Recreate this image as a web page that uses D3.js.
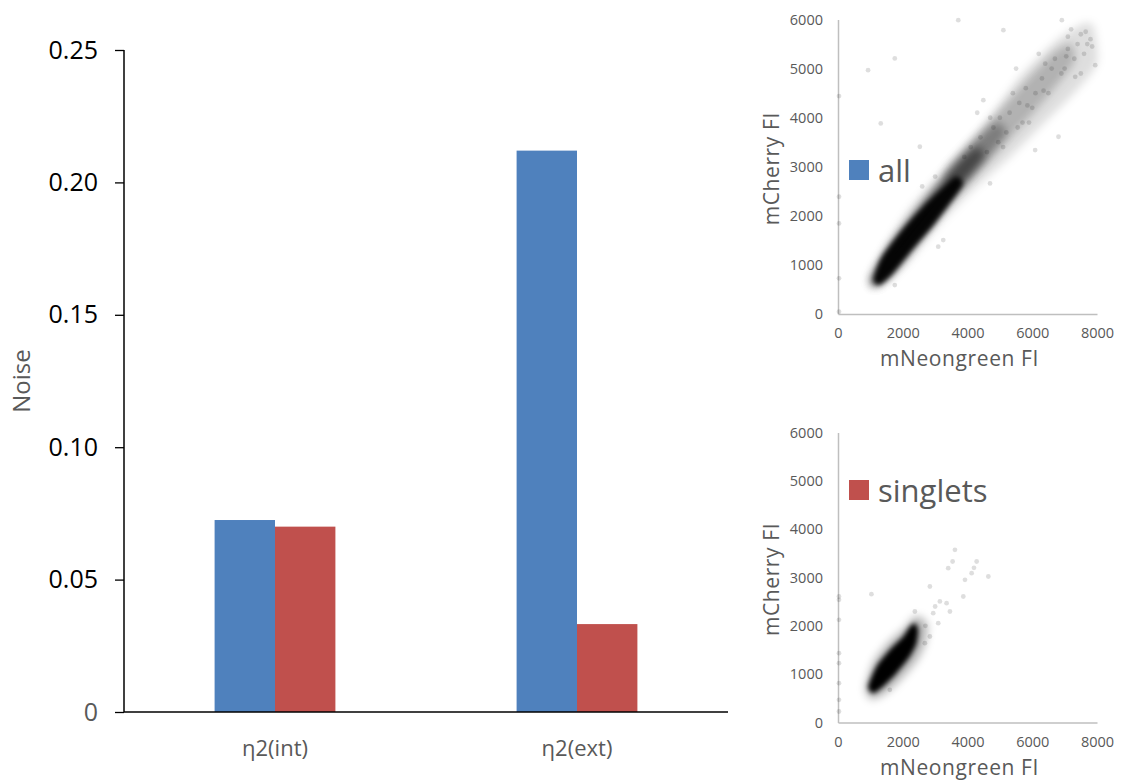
<!DOCTYPE html>
<html>
<head>
<meta charset="utf-8">
<script src="https://cdn.jsdelivr.net/npm/d3@7"></script>
<style>
  body { margin: 0; background: #fff; }
  svg { display: block; font-family: "Open Sans", sans-serif; }
</style>
</head>
<body>
<div id="chart"></div>
<script>
// bar chart data
const categories = ["η2(int)", "η2(ext)"];
const seriesNames = ["all", "singlets"];
const allValues = [0.0725, 0.2120];
const singletValues = [0.0700, 0.0332];
const noiseTicks = [0, 0.05, 0.10, 0.15, 0.20, 0.25];

// scatter axes ticks
const fiXTicks = [0, 2000, 4000, 6000, 8000];
const fiYTicks = [0, 1000, 2000, 3000, 4000, 5000, 6000];

// "all" cloud as [mNeongreen, mCherry] outlines
const allOuter = [[980, 828], [2116, 2050], [3354, 3000], [4489, 3814], [5624, 4832], [6760, 5579],
  [7585, 5918], [7895, 5850], [7998, 5104], [7276, 4493], [6347, 3882], [5315, 3203],
  [4283, 2593], [3251, 1914], [2219, 1100], [1600, 692], [1084, 543]];
const allMid = [[3300, 2900], [4000, 3450], [4700, 3950], [5400, 4450], [6100, 4950], [6700, 5350],
  [7200, 5500], [7300, 5150], [6800, 4700], [6100, 4150], [5400, 3650], [4700, 3150],
  [4000, 2700], [3500, 2450]];
const allInner = [[1000, 700], [1800, 1500], [2700, 2300], [3500, 2950], [4300, 3550], [4900, 3900],
  [5200, 3700], [4700, 3250], [4000, 2700], [3300, 2150], [2500, 1500], [1700, 850], [1150, 560]];
const allDense = [[1050, 700], [1500, 1300], [2300, 2000], [3100, 2650], [3800, 3150], [4300, 3400],
  [4500, 3200], [3900, 2700], [3200, 2150], [2500, 1550], [1800, 950], [1200, 580]];
const allCore = [[1100, 700], [1350, 1150], [2000, 1720], [2650, 2200], [3250, 2580], [3650, 2800],
  [3850, 2650], [3450, 2250], [2900, 1770], [2250, 1280], [1650, 800], [1280, 600]];
const allStray = [[3715, 5986], [929, 4968], [1754, 5206], [31, 4439], [1321, 3882], [31, 2389],
  [31, 1846], [31, 726], [31, 48], [1754, 590], [2528, 3407], [5108, 5782], [6914, 5986],
  [7946, 5070], [6811, 3611], [6089, 3339], [3251, 1507], [3096, 1371], [4489, 4357],
  [4696, 2660], [7327, 4832], [5500, 5000], [6200, 5300], [7100, 5650], [7700, 5500],
  [4300, 4100], [5900, 3900], [3000, 2800], [2600, 2600], [4950, 3500], [7500, 4900],
  [5000, 4000], [5200, 3700], [5600, 4300], [5800, 4600], [6000, 4200], [6300, 4800],
  [6500, 4500], [6700, 5200], [6900, 4900], [7100, 5400], [7300, 5200], [7500, 5700],
  [7600, 5300], [7800, 5600], [7200, 5800], [6600, 5000], [5400, 4500], [4800, 3800],
  [4600, 3300], [5100, 3400], [4400, 3600], [4100, 3400], [3900, 3200], [5700, 3900],
  [6100, 4500], [7000, 5000], [7400, 5500], [6400, 5100], [5300, 4100], [4700, 4000],
  [7650, 5750], [7850, 5450], [7050, 5250], [6350, 4550], [5850, 4250], [5550, 3800]];

// "singlets" cloud
const singMid = [[850, 700], [1100, 1250], [1550, 1650], [2050, 1950], [2400, 2200], [2750, 2050],
  [2700, 1650], [2450, 1300], [1950, 900], [1500, 620], [1050, 480]];
const singCore = [[929, 745], [1187, 1159], [1600, 1504], [2012, 1779], [2219, 1986], [2374, 2055],
  [2477, 1917], [2425, 1641], [2219, 1366], [1806, 1021], [1393, 745], [1084, 607]];
const singStray = [[3612, 3573], [3540, 3331], [4283, 3331], [4128, 3090], [4644, 3021], [3922, 2952],
  [3405, 3193], [2838, 2814], [3147, 2504], [3354, 2469], [3870, 2607], [3457, 2297],
  [2374, 2297], [1032, 2655], [30, 2538], [30, 2607], [30, 2124], [30, 1435], [30, 1228],
  [30, 814], [30, 469], [30, 228], [2838, 1779], [2683, 1641], [3096, 2055], [2941, 2262],
  [1600, 676], [4200, 3200], [3000, 2400], [2700, 2000]];

const W = 1123, H = 780;
const blue = "#4F81BD", red = "#C0504D", grey = "#595959";

const svg = d3.select("#chart").append("svg")
  .attr("width", W)
  .attr("height", H);

const defs = svg.append("defs");
[["soft", 2.5], ["haze", 4.5]].forEach(([id, s]) => {
  defs.append("filter").attr("id", id)
    .attr("x", "-20%").attr("y", "-20%").attr("width", "140%").attr("height", "140%")
    .append("feGaussianBlur").attr("stdDeviation", s);
});

// ---- bar chart ----
const x0 = d3.scaleBand().domain(categories).range([124, 728]);
const x1 = d3.scaleBand().domain(seriesNames).range([0, x0.bandwidth()]).paddingOuter(1.5);
const y = d3.scaleLinear().domain([0, 0.25]).range([712, 50]);

const rows = categories.map((c, i) => ({ cat: c, vals: [allValues[i], singletValues[i]] }));

svg.append("g")
  .selectAll("g")
  .data(rows)
  .join("g")
  .attr("transform", d => `translate(${x0(d.cat)},0)`)
  .selectAll("rect")
  .data(d => d.vals.map((v, j) => ({ s: seriesNames[j], v })))
  .join("rect")
  .attr("x", d => x1(d.s))
  .attr("width", x1.bandwidth())
  .attr("y", d => y(d.v))
  .attr("height", d => y(0) - y(d.v))
  .attr("fill", (d, j) => j == 0 ? blue : red);

const yAxis = svg.append("g")
  .attr("transform", "translate(124,0)")
  .call(d3.axisLeft(y).tickValues(noiseTicks).tickSize(9).tickPadding(17)
    .tickFormat(d => d == 0 ? "0" : d3.format(".2f")(d)));
yAxis.select(".domain").attr("stroke", "#000").attr("stroke-width", 1.5).attr("d", "M0,50V712");
yAxis.selectAll(".tick line").attr("stroke", "#000").attr("stroke-width", 1.3);
yAxis.selectAll(".tick text").attr("font-size", 25).attr("fill", d => d == 0 ? grey : "#000")
  .attr("font-family", "Open Sans");

svg.append("line")
  .attr("x1", 124).attr("x2", 728).attr("y1", y(0)).attr("y2", y(0))
  .attr("stroke", "#000").attr("stroke-width", 1.5);

svg.append("g")
  .selectAll("text")
  .data(categories)
  .join("text")
  .attr("x", d => x0(d) + x0.bandwidth() / 2)
  .attr("y", 756)
  .attr("text-anchor", "middle")
  .attr("font-size", 22)
  .attr("fill", grey)
  .text(d => d);

svg.append("text")
  .attr("transform", "translate(30,381) rotate(-90)")
  .attr("text-anchor", "middle")
  .attr("font-size", 24)
  .attr("fill", grey)
  .attr("font-family", "Open Sans")
  .text("Noise");

// ---- scatter panels ----
function scatter(top, bottom, layers, stray, label, color, legendY) {
  const sx = d3.scaleLinear().domain([0, 8000]).range([838, 1097]);
  const sy = d3.scaleLinear().domain([0, 6000]).range([bottom, top]);
  const g = svg.append("g");

  const xa = g.append("g").attr("transform", `translate(0,${bottom})`)
    .call(d3.axisBottom(sx).tickValues(fiXTicks).tickSize(0).tickPadding(14).tickFormat(d3.format("d")));
  const ya = g.append("g").attr("transform", "translate(838,0)")
    .call(d3.axisLeft(sy).tickValues(fiYTicks).tickSize(0).tickPadding(15).tickFormat(d3.format("d")));
  [xa, ya].forEach(a => {
    a.select(".domain").attr("stroke", "#bfbfbf").attr("stroke-width", 1.5);
    a.selectAll(".tick text").attr("font-size", 14.5).attr("fill", grey).attr("font-family", "Open Sans");
  });

  const line = d3.line().x(d => sx(d[0])).y(d => sy(d[1])).curve(d3.curveCardinalClosed.tension(0.3));
  g.append("g")
    .selectAll("path")
    .data(layers)
    .join("path")
    .attr("d", d => line(d.pts))
    .attr("filter", d => d.op > 0.9 ? "url(#soft)" : "url(#haze)")
    .attr("fill", "#000")
    .attr("fill-opacity", d => d.op);

  g.append("g")
    .selectAll("circle")
    .data(stray)
    .join("circle")
    .attr("cx", d => sx(d[0]))
    .attr("cy", d => sy(d[1]))
    .attr("r", 2.4)
    .attr("fill", "#000")
    .attr("fill-opacity", 0.13);

  g.append("text")
    .attr("x", sx(4000) - 8)
    .attr("y", bottom + 52)
    .attr("text-anchor", "middle")
    .attr("font-size", 21)
    .attr("fill", grey)
    .attr("letter-spacing", 0.6)
    .text("mNeongreen FI");

  g.append("text")
    .attr("transform", `translate(779,${(top + bottom) / 2 + 2}) rotate(-90)`)
    .attr("text-anchor", "middle")
    .attr("font-size", 21)
    .attr("fill", grey)
    .attr("letter-spacing", 0.6)
    .text("mCherry FI");

  g.append("rect")
    .attr("x", 849).attr("y", legendY - 10)
    .attr("width", 20).attr("height", 20)
    .attr("fill", color);
  g.append("text")
    .attr("x", 878).attr("y", legendY + 12)
    .attr("font-size", 31)
    .attr("fill", grey)
    .text(label);
}

scatter(19.5, 314,
  [{ pts: allOuter, op: 0.13 }, { pts: allMid, op: 0.2 }, { pts: allInner, op: 0.3 },
   { pts: allDense, op: 0.45 }, { pts: allCore, op: 0.95 }],
  allStray, "all", blue, 170);
scatter(432.5, 722.5,
  [{ pts: singMid, op: 0.3 }, { pts: singCore, op: 1 }],
  singStray, "singlets", red, 490);
</script>
</body>
</html>
